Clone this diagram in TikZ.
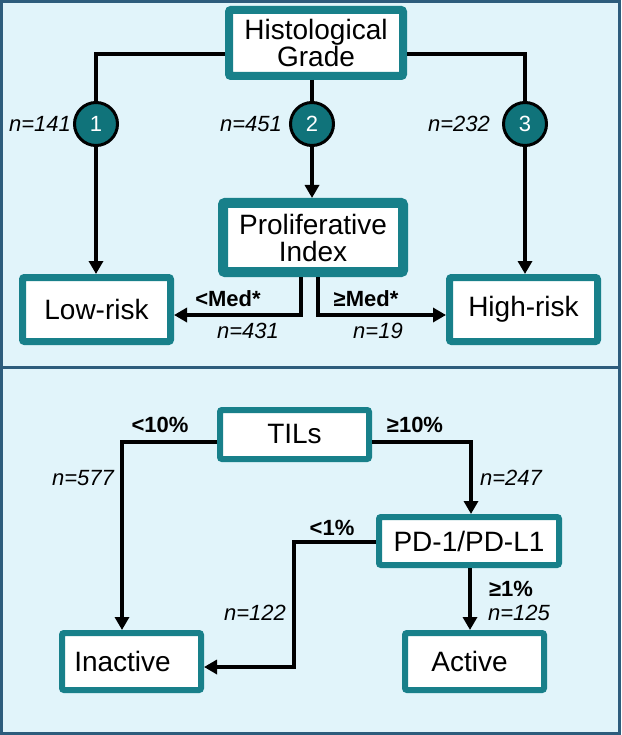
\documentclass[tikz,border=0pt]{standalone}
\usepackage{fontspec}
\setmainfont{Liberation Sans}
\usetikzlibrary{arrows.meta}
\definecolor{bgblue}{HTML}{E1F4FA}
\definecolor{frame}{HTML}{2D5C7C}
\definecolor{teal1}{HTML}{18808A}
\definecolor{tealc}{HTML}{10737A}
\begin{document}
\begin{tikzpicture}[x=1pt,y=-1pt,
 box/.style={draw=teal1, fill=white, rounded corners=2pt, inner sep=0pt, align=center, font=\fontsize{28}{27}\selectfont},
 num/.style={circle, draw=black, line width=3pt, fill=tealc, text=white, minimum size=43pt, inner sep=0pt, font=\fontsize{22}{22}\selectfont},
 conn/.style={line width=4pt, black},
 arr/.style={conn, -{Triangle[length=13pt,width=14pt]}},
 lbl/.style={font=\fontsize{22}{22}\selectfont\itshape, inner sep=0pt},
 blbl/.style={font=\fontsize{22}{22}\selectfont\bfseries, inner sep=0pt}]
\useasboundingbox (0,0) rectangle (621,735);
\fill[bgblue] (0,0) rectangle (621,735);
\draw[frame, line width=3pt] (1.5,1.5) rectangle (619.5,367);
\draw[frame, line width=3pt] (1.5,367) rectangle (619.5,733.5);

% top panel
\node[box, line width=8pt, minimum width=174pt, minimum height=66pt] (hg) at (316,43) {Histological\\Grade};
\node[box, line width=10pt, minimum width=180pt, minimum height=69pt] (pi) at (313,237.5) {Proliferative\\Index};
\node[box, line width=7pt, minimum width=148pt, minimum height=64pt] (lr) at (96.5,309.5) {Low-risk};
\node[box, line width=7pt, minimum width=148pt, minimum height=64pt] (hr) at (523.5,309.5) {High-risk};
\node[num] (c1) at (96,124) {1};
\node[num] (c2) at (312,124) {2};
\node[num] (c3) at (525,124) {3};

\draw[conn] ([yshift=-11pt]hg.west) -| (c1);
\draw[conn] ([yshift=-11pt]hg.east) -| (c3);
\draw[conn] (hg.south -| c2) -- (c2);
\draw[arr] (c1) -- (c1 |- lr.north);
\draw[arr] (c3) -- (c3 |- hr.north);
\draw[arr] (c2) -- (c2 |- pi.north);
\draw[arr] ([xshift=-12pt]pi.south) |- ([yshift=-5.5pt]lr.east);
\draw[arr] ([xshift=5pt]pi.south) |- ([yshift=-5.5pt]hr.west);

\node[lbl] (l141) at (40,124) {n=141};
\node[lbl] (l451) at (251,124) {n=451};
\node[lbl] (l232) at (459,124) {n=232};
\node[blbl] (lmed) at (228,299) {<Med*};
\node[blbl] (gmed) at (366,299) {≥Med*};
\node[lbl] (l431) at (248,331) {n=431};
\node[lbl] (l19) at (378,331) {n=19};

% bottom panel
\node[box, line width=6pt, minimum width=149pt, minimum height=49pt] (tils) at (294.5,434.5) {TILs};
\node[box, line width=6pt, minimum width=180pt, minimum height=48pt] (pd) at (469,541) {PD-1/PD-L1};
\node[box, line width=6pt, minimum width=139pt, minimum height=57pt] (inact) at (131.5,661.5) {Inactive\hspace*{18pt}};
\node[box, line width=6pt, minimum width=139pt, minimum height=57pt] (act) at (474.5,661.5) {Active\hspace*{10pt}};

\draw[arr] ([yshift=-7.5pt]tils.west) -| ([xshift=-9.5pt]inact.north);
\draw[arr] ([yshift=-7.5pt]tils.east) -| ([xshift=2pt]pd.north);
\draw[arr] ([yshift=-1pt]pd.west) -- ++(-82,0) |- ([yshift=-5.5pt]inact.east);
\draw[arr] ([xshift=1pt]pd.south) -- ([xshift=1pt]pd.south |- act.north);

\node[blbl] (lt10) at (160,425) {<10\%};
\node[blbl] (gt10) at (415,425) {≥10\%};
\node[lbl] (l577) at (83,478) {n=577};
\node[lbl] (l247) at (511,478) {n=247};
\node[blbl] (lt1) at (332,528) {<1\%};
\node[lbl] (l122) at (255,613) {n=122};
\node[blbl] (gt1) at (511,589) {≥1\%};
\node[lbl] (l125) at (519,613) {n=125};
\end{tikzpicture}
\end{document}
